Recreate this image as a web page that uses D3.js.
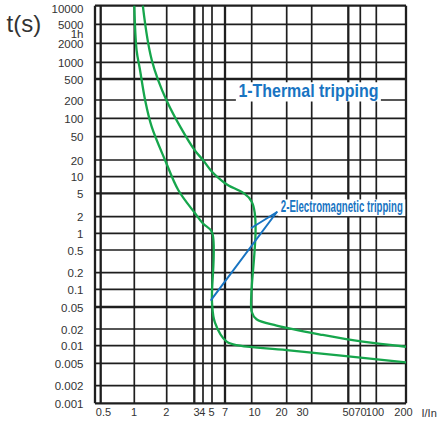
<!DOCTYPE html>
<html>
<head>
<meta charset="utf-8">
<script src="https://cdn.jsdelivr.net/npm/d3@7"></script>
<style>
  html, body { margin: 0; padding: 0; background: #fff; }
  svg { display: block; }
</style>
</head>
<body>
<svg id="chart" width="440" height="424"></svg>
<script>
// ---------- data ----------
const xTicks = [0.5, 1, 2, 3, 4, 5, 7, 10, 20, 30, 50, 70, 100, 200];
const yTicks = [10000, 5000, 2000, 1000, 500, 200, 100, 50, 20, 10, 5, 2, 1, 0.5, 0.2, 0.1, 0.05, 0.02, 0.01, 0.005, 0.002, 0.001];
const yExtraTick = { value: 3600, label: "1h" };
const xUnitLabel = "I/In";
const yTitle = "t(s)";

// curve 1: lower-current characteristic (I/In, t seconds)
const curveLowI = [1.0, 1.05, 1.13, 1.26, 1.45, 1.93, 2.37, 3.07, 4.0, 5.0, 5.0, 5.4, 7.16, 8.55, 20, 200];
const curveLowT = [10000, 1566, 727, 200, 73, 20, 5.74, 2.29, 1.5, 1.05, 0.06, 0.026, 0.0118, 0.01, 0.0084, 0.0052];
// curve 2: upper-current characteristic
const curveHighI = [1.2, 1.45, 2.0, 3.0, 4.0, 5.0, 7.0, 10, 10, 11, 16.4, 35, 74, 200];
const curveHighT = [10000, 1100, 195, 30, 20, 12.3, 7.6, 3.6, 0.041, 0.030, 0.023, 0.0156, 0.0118, 0.0096];

// annotations (data coordinates)
const annoThermal = { text: "1-Thermal tripping", I: 8.37, t: 231 };
const annoMagnetic = { text: "2-Electromagnetic tripping", I: 17.8, t: 2.41 };
const leaderFrom = { I: 16.4, t: 2.38 };
const leaderTo = [{ I: 10, t: 1.26 }, { I: 4.9, t: 0.066 }];

// ---------- layout ----------
const xFrameMin = 0.4;
const xRange = [95, 100.7, 134.3, 166.7, 194.3, 203, 212, 225, 251.7, 286.7, 311.7, 348.3, 360.3, 376.3, 406];
const xLabelRange = [103, 133.5, 165.7, 196, 201.8, 211, 224.5, 254, 281, 302, 348, 360, 374.5, 403];
const yRange = [5.7, 24.3, 43.3, 62.3, 79, 100, 118.3, 136.7, 160, 176.7, 193.3, 216.7, 233.3, 250, 272.7, 289.3, 307, 329, 345.7, 363.3, 385.7, 403.3];
const thickX = [0.5, 3, 7, 50];
const thickY = [500, 5, 0.05];

const gridColor = "#1e1e1e";
const green = "#16a64c";
const blue = "#1874c2";
const textColor = "#333";

// ---------- scales ----------
const x = d3.scaleLog().domain([xFrameMin, ...xTicks]).range(xRange);
const xLab = d3.scaleLog().domain(xTicks).range(xLabelRange);
const y = d3.scaleLog().domain(yTicks).range(yRange);

const svg = d3.select("#chart");

// ---------- grid ----------
const grid = svg.append("g");
const yTop = y(yTicks[0]), yBot = y(yTicks[yTicks.length - 1]);
const xLeft = x(xFrameMin), xRight = x(xTicks[xTicks.length - 1]);

grid.selectAll("line.h").data(yTicks).join("line")
  .attr("x1", xLeft).attr("x2", xRight)
  .attr("y1", d => y(d)).attr("y2", d => y(d))
  .attr("stroke", gridColor)
  .attr("stroke-width", (d, i) => (thickY.includes(d) || i === 0 || i === yTicks.length - 1) ? 2.3 : 1.7);

grid.selectAll("line.v").data([xFrameMin, ...xTicks]).join("line")
  .attr("y1", yTop).attr("y2", yBot)
  .attr("x1", d => x(d)).attr("x2", d => x(d))
  .attr("stroke", gridColor)
  .attr("stroke-width", d => (thickX.includes(d) || d === xFrameMin || d === 200) ? 2.3 : 1.7);

// ---------- axes labels ----------
const axisFont = "'Liberation Sans', Arial, sans-serif";
const yAxis = d3.axisLeft(y)
  .tickValues([...yTicks, yExtraTick.value])
  .tickSize(0).tickPadding(0)
  .tickFormat(d => d === yExtraTick.value ? yExtraTick.label : String(d));
const gy = svg.append("g").attr("transform", "translate(83.5,0)").call(yAxis);
gy.select(".domain").remove();
gy.selectAll("text")
  .attr("font-family", axisFont).attr("font-size", 11.5)
  .attr("fill", textColor).attr("dy", "0.36em");
gy.selectAll(".tick").filter(d => d === yExtraTick.value)
  .attr("transform", `translate(0,${y(yExtraTick.value) + 2.5})`);
gy.selectAll(".tick").filter(d => d === yTicks[0])
  .attr("transform", `translate(0,${y(yTicks[0]) + 3.3})`);

const xAxis = d3.axisBottom(xLab)
  .tickValues(xTicks).tickSize(0).tickPadding(0)
  .tickFormat(d => String(d));
const gx = svg.append("g").attr("transform", "translate(0,408)").call(xAxis);
gx.select(".domain").remove();
gx.selectAll("text")
  .attr("font-family", axisFont).attr("font-size", 11)
  .attr("fill", textColor).attr("y", 0).attr("dy", "0.71em");

svg.append("text").text(xUnitLabel)
  .attr("x", 421.5).attr("y", 416.5)
  .attr("font-family", axisFont).attr("font-size", 11).attr("fill", textColor);

svg.append("text").text(yTitle)
  .attr("x", 6.5).attr("y", 31.5)
  .attr("font-family", axisFont).attr("font-size", 24).attr("fill", textColor);

// ---------- curves ----------
const line = d3.line()
  .x(d => x(d[0])).y(d => y(d[1]))
  .curve(d3.curveCatmullRom.alpha(0.5));

const curves = [
  d3.zip(curveLowI, curveLowT),
  d3.zip(curveHighI, curveHighT)
];
svg.append("g").selectAll("path").data(curves).join("path")
  .attr("d", line)
  .attr("fill", "none")
  .attr("stroke", green)
  .attr("stroke-width", 2.3)
  .attr("stroke-linejoin", "round");

// ---------- annotations ----------
const annoFont = "'Liberation Sans Narrow', 'Liberation Sans', Arial, sans-serif";
function addLabel(a, size, len) {
  const tx = x(a.I), ty = y(a.t);
  svg.append("rect")
    .attr("x", tx - 2.5).attr("y", ty - size * 0.78)
    .attr("width", len + 5).attr("height", size * 0.78 + size * 0.26)
    .attr("fill", "#fff");
  svg.append("text").text(a.text)
    .attr("x", tx).attr("y", ty)
    .attr("font-family", annoFont).attr("font-weight", "bold")
    .attr("font-size", size).attr("fill", blue)
    .attr("textLength", len).attr("lengthAdjust", "spacingAndGlyphs");
}
addLabel(annoThermal, 18.5, 140);
addLabel(annoMagnetic, 16, 122);

svg.append("g").selectAll("line").data(leaderTo).join("line")
  .attr("x1", x(leaderFrom.I)).attr("y1", y(leaderFrom.t))
  .attr("x2", d => x(d.I)).attr("y2", d => y(d.t))
  .attr("stroke", blue).attr("stroke-width", 2)
  .attr("stroke-linecap", "round");
</script>
</body>
</html>
